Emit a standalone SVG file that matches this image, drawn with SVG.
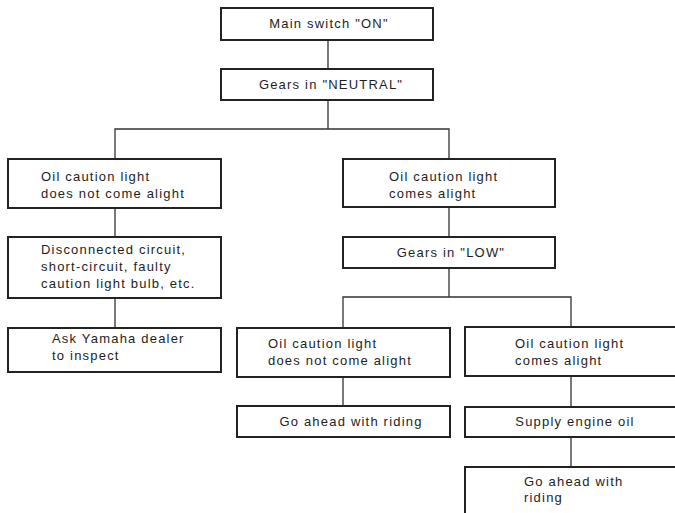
<svg xmlns="http://www.w3.org/2000/svg" width="675" height="513" viewBox="0 0 675 513">
<style>
.box{fill:#fff;stroke:#222;stroke-width:2}
.ln{fill:none;stroke:#333;stroke-width:1.3}
text{font-family:"Liberation Sans",Arial,sans-serif;font-size:13px;letter-spacing:1.2px;fill:#1e1e1e}
.c{text-anchor:middle}
</style>
<rect width="675" height="513" fill="#fff"/>
<g id="connectors">
<path class="ln" d="M328,40V69"/>
<path class="ln" d="M328,100V129M115,159V129H449V159"/>
<path class="ln" d="M115,208V237"/>
<path class="ln" d="M115,298V328"/>
<path class="ln" d="M449,207V237"/>
<path class="ln" d="M449,268V297M343,328V297H571V328"/>
<path class="ln" d="M343,377V406"/>
<path class="ln" d="M571,376V407"/>
<path class="ln" d="M571,437V467"/>
</g>
<g id="main-switch"><rect class="box" x="221" y="8" width="212" height="32"/><text class="c" x="329" y="28">Main switch "ON"</text></g>
<g id="gears-neutral"><rect class="box" x="221" y="69" width="212" height="31"/><text class="c" x="331" y="89">Gears in "NEUTRAL"</text></g>
<g id="light-off"><rect class="box" x="8" y="159" width="213" height="49"/><text x="41" y="181">Oil caution light</text><text x="41" y="198">does not come alight</text></g>
<g id="light-on"><rect class="box" x="343" y="159" width="212" height="48"/><text x="389" y="181">Oil caution light</text><text x="389" y="198">comes alight</text></g>
<g id="disconnected"><rect class="box" x="8" y="237" width="213" height="61"/><text x="41" y="254">Disconnected circuit,</text><text x="41" y="271">short-circuit, faulty</text><text x="41" y="288">caution light bulb, etc.</text></g>
<g id="gears-low"><rect class="box" x="343" y="237" width="212" height="31"/><text class="c" x="451" y="257">Gears in "LOW"</text></g>
<g id="ask-dealer"><rect class="box" x="8" y="328" width="213" height="44"/><text x="52" y="343">Ask Yamaha dealer</text><text x="52" y="360">to inspect</text></g>
<g id="low-light-off"><rect class="box" x="237" y="328" width="213" height="49"/><text x="268" y="348">Oil caution light</text><text x="268" y="365">does not come alight</text></g>
<g id="low-light-on"><rect class="box" x="465" y="327" width="214" height="49"/><text x="515" y="348">Oil caution light</text><text x="515" y="365">comes alight</text></g>
<g id="go-ahead-1"><rect class="box" x="237" y="406" width="213" height="31"/><text class="c" x="351" y="426">Go ahead with riding</text></g>
<g id="supply-oil"><rect class="box" x="465" y="407" width="214" height="30"/><text class="c" x="575" y="426">Supply engine oil</text></g>
<g id="go-ahead-2"><rect class="box" x="465" y="467" width="214" height="60"/><text x="524" y="486">Go ahead with</text><text x="524" y="502">riding</text></g>
</svg>
